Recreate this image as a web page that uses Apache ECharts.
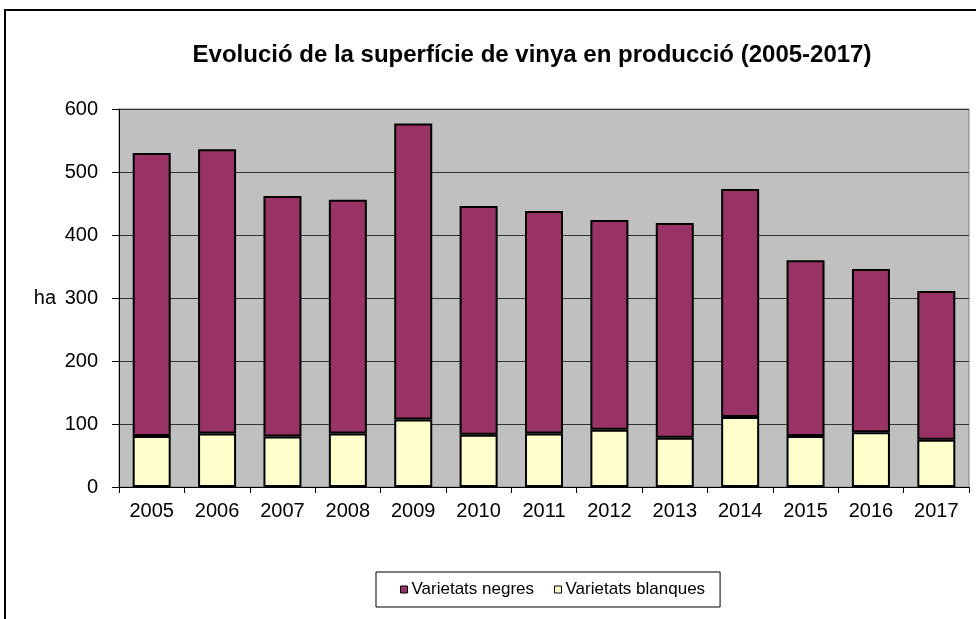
<!DOCTYPE html>
<html>
<head>
<meta charset="utf-8">
<script src="https://cdn.jsdelivr.net/npm/echarts@6/dist/echarts.min.js"></script>
<style>
  html, body { margin: 0; padding: 0; background: #fff; }
  #frame { position: absolute; left: 4px; top: 9px; width: 980px; height: 620px; border-left: 2px solid #000; border-top: 2px solid #000; }
  #chart { position: absolute; left: 0; top: 0; width: 976px; height: 619px; }
</style>
</head>
<body>
<div id="frame"></div>
<div id="chart"></div>
<script>
var years = ['2005','2006','2007','2008','2009','2010','2011','2012','2013','2014','2015','2016','2017'];
var blanques = [81, 85, 80, 85, 107, 83, 85, 91, 78, 111, 81, 87, 75];
var negres = [449, 451, 382, 371, 470, 363, 353, 333, 341, 362, 279, 259, 236];
var yTicks = [0, 100, 200, 300, 400, 500, 600];

var chart = echarts.init(document.getElementById('chart'));
var font = 'Liberation Sans, Arial, sans-serif';

var option = {
  animation: false,
  title: {
    text: 'Evolució de la superfície de vinya en producció (2005-2017)',
    left: 527,
    top: 38,
    textAlign: 'center',
    textStyle: { fontFamily: font, fontSize: 24, fontWeight: 'bold', color: '#000' }
  },
  legend: {
    data: ['Varietats negres', 'Varietats blanques'],
    left: 376,
    top: 572,
    padding: [9, 15, 9, 24],
    itemGap: 20,
    itemWidth: 7,
    itemHeight: 7,
    icon: 'rect',
    itemStyle: { borderColor: '#000', borderWidth: 1 },
    backgroundColor: '#fff',
    borderColor: '#000',
    borderWidth: 1,
    textStyle: { fontFamily: font, fontSize: 17, color: '#000', padding: [0, 0, 0, -1] }
  },
  grid: {
    left: 119, right: 7, top: 109, bottom: 132,
    show: true,
    backgroundColor: '#c0c0c0',
    borderColor: '#808080',
    borderWidth: 1
  },
  xAxis: {
    type: 'category',
    data: years,
    axisLine: { lineStyle: { color: '#000', width: 1 } },
    axisTick: { show: true, length: 6, inside: false, lineStyle: { color: '#000' } },
    axisLabel: { fontFamily: font, fontSize: 20, color: '#000', margin: 14 }
  },
  yAxis: {
    type: 'value',
    min: yTicks[0],
    max: yTicks[yTicks.length - 1],
    interval: 100,
    name: 'ha',
    nameLocation: 'middle',
    nameRotate: 0,
    nameGap: 63,
    nameTextStyle: { fontFamily: font, fontSize: 20, color: '#000', padding: [0, 0, 12, 0] },
    axisLine: { show: true, lineStyle: { color: '#000', width: 1 } },
    axisTick: { show: true, length: 7, lineStyle: { color: '#000' } },
    axisLabel: { fontFamily: font, fontSize: 20, color: '#000', margin: 21 },
    splitLine: { lineStyle: { color: '#333', width: 1 } }
  },
  series: [
    {
      name: 'Varietats blanques',
      type: 'bar',
      stack: 'total',
      data: blanques,
      barWidth: 38,
      itemStyle: { color: '#ffffcc', borderColor: '#000', borderWidth: 2 }
    },
    {
      name: 'Varietats negres',
      type: 'bar',
      stack: 'total',
      data: negres,
      barWidth: 38,
      itemStyle: { color: '#993366', borderColor: '#000', borderWidth: 2 }
    }
  ]
};

chart.setOption(option);
</script>
</body>
</html>
